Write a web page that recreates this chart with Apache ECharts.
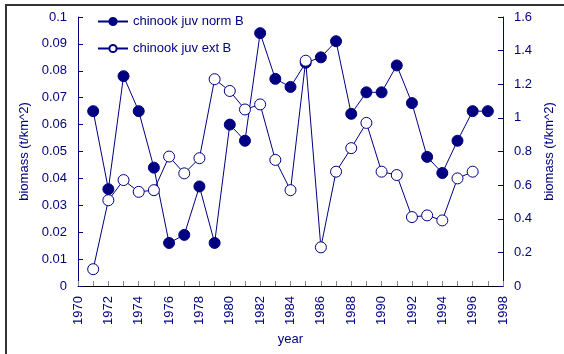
<!DOCTYPE html>
<html>
<head>
<meta charset="utf-8">
<script src="https://cdn.jsdelivr.net/npm/echarts@6/dist/echarts.min.js"></script>
<style>
  html, body { margin: 0; padding: 0; background: #fff; }
  #chart { width: 564px; height: 354px; }
</style>
</head>
<body>
<div id="chart"></div>
<script>
// Survey years
var years = [1971, 1972, 1973, 1974, 1975, 1976, 1977, 1978, 1979, 1980,
             1981, 1982, 1983, 1984, 1985, 1986, 1987, 1988, 1989, 1990,
             1991, 1992, 1993, 1994, 1995, 1996, 1997];
// chinook juv norm B, left axis (t/km^2)
var normB = [0.065, 0.036, 0.078, 0.065, 0.044, 0.016, 0.019, 0.037, 0.016, 0.060,
             0.054, 0.094, 0.077, 0.074, 0.083, 0.085, 0.091, 0.064, 0.072, 0.072,
             0.082, 0.068, 0.048, 0.042, 0.054, 0.065, 0.065];
// chinook juv ext B, right axis (t/km^2); no value for 1997
var extB = [0.10, 0.51, 0.63, 0.56, 0.57, 0.77, 0.67, 0.76, 1.23, 1.16,
            1.05, 1.08, 0.75, 0.57, 1.34, 0.23, 0.68, 0.82, 0.97, 0.68,
            0.66, 0.41, 0.42, 0.39, 0.64, 0.68, null];

var NAVY = '#000080';
var FONT = 'Liberation Sans, Arial, sans-serif';
var FS = 13;

function pairs(vals) {
  var out = [];
  for (var i = 0; i < years.length; i++) {
    if (vals[i] !== null) out.push([years[i], vals[i]]);
  }
  return out;
}

var chart = echarts.init(document.getElementById('chart'), null, { renderer: 'canvas' });

var yAxisCommon = {
  type: 'value',
  nameLocation: 'middle',
  nameRotate: 90,
  nameTextStyle: { color: NAVY, fontSize: FS, fontFamily: FONT },
  axisLine: { show: true, lineStyle: { color: NAVY, width: 1 } },
  axisTick: { show: true, inside: true, length: 5, lineStyle: { color: NAVY } },
  axisLabel: { color: NAVY, fontSize: FS, fontFamily: FONT, margin: 11 },
  splitLine: { show: false }
};

chart.setOption({
  animation: false,
  backgroundColor: '#fff',
  graphic: [{
    type: 'rect',
    shape: { x: 6, y: 5, width: 620, height: 420 },
    style: { fill: 'none', stroke: '#333', lineWidth: 2 },
    silent: true
  }],
  grid: { left: 78, right: 58.5, top: 17, bottom: 68 },
  legend: {
    orient: 'vertical',
    left: 92,
    top: 10,
    itemGap: 14,
    itemWidth: 30,
    itemHeight: 9,
    textStyle: { color: NAVY, fontSize: FS, fontFamily: FONT },
    data: ['chinook juv norm B', 'chinook juv ext B']
  },
  xAxis: {
    type: 'value',
    min: 1970,
    max: 1998,
    interval: 2,
    name: 'year',
    nameLocation: 'middle',
    nameGap: 47,
    nameTextStyle: { color: NAVY, fontSize: FS, fontFamily: FONT },
    axisLine: { show: true, lineStyle: { color: '#000', width: 1 } },
    axisTick: { show: true, inside: true, length: 5, lineStyle: { color: '#888' } },
    minorTick: { show: true, splitNumber: 2, length: 5, lineStyle: { color: '#888' } },
    axisLabel: {
      color: NAVY, fontSize: FS, fontFamily: FONT, rotate: 90, margin: 10,
      formatter: function (v) { return String(v); }
    },
    splitLine: { show: false }
  },
  yAxis: [
    Object.assign({}, yAxisCommon, {
      position: 'left',
      min: 0, max: 0.1, interval: 0.01,
      name: 'biomass (t/km^2)',
      nameGap: 43
    }),
    Object.assign({}, yAxisCommon, {
      position: 'right',
      min: 0, max: 1.6, interval: 0.2,
      name: 'biomass (t/km^2)',
      nameGap: 38
    })
  ],
  series: [
    {
      name: 'chinook juv norm B',
      type: 'line',
      yAxisIndex: 0,
      data: pairs(normB),
      symbol: 'circle',
      symbolSize: 11,
      lineStyle: { color: NAVY, width: 1 },
      itemStyle: { color: NAVY, borderColor: NAVY, borderWidth: 1 },
      z: 3
    },
    {
      name: 'chinook juv ext B',
      type: 'line',
      yAxisIndex: 1,
      data: pairs(extB),
      symbol: 'circle',
      symbolSize: 11,
      lineStyle: { color: NAVY, width: 1 },
      itemStyle: { color: '#fff', borderColor: NAVY, borderWidth: 1 },
      z: 4
    }
  ]
});
</script>
</body>
</html>
